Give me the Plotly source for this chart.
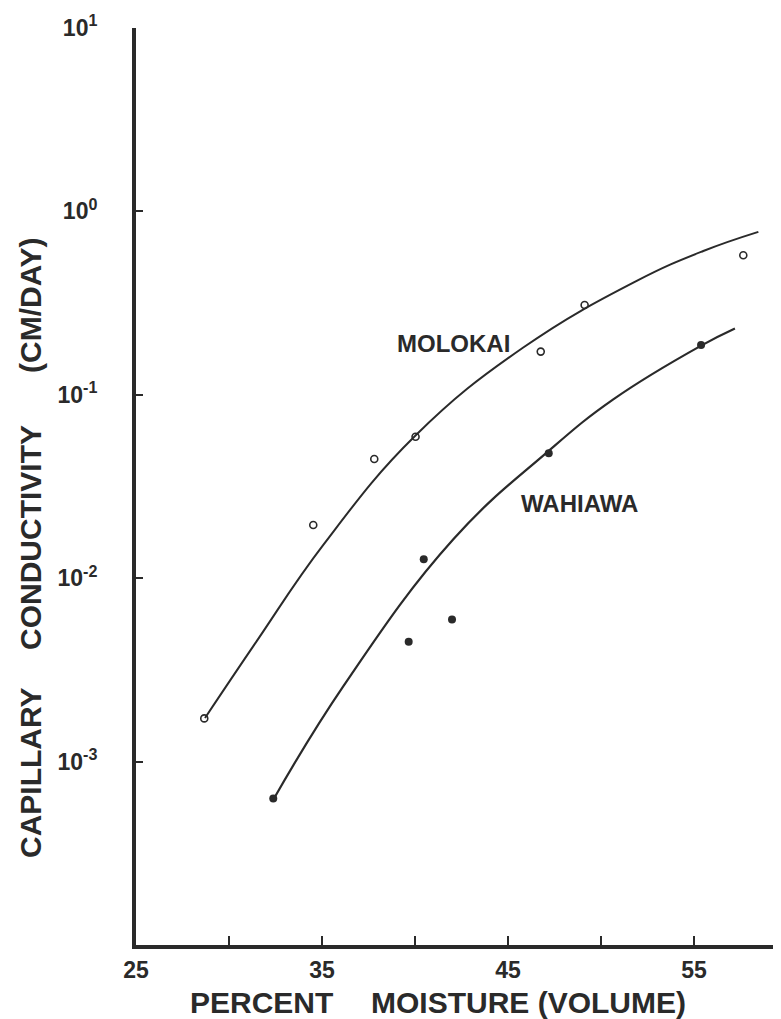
import plotly.graph_objects as go

# ---- data ----
molokai_x = [28.67, 34.53, 37.81, 40.03, 46.76, 49.12, 57.65]
molokai_y = [0.00172, 0.0195, 0.0447, 0.0591, 0.172, 0.309, 0.577]

wahiawa_x = [32.38, 39.66, 40.47, 41.99, 47.19, 55.38]
wahiawa_y = [0.00063, 0.0045, 0.0127, 0.00596, 0.048, 0.187]

# hand-drawn fitted curves
molokai_curve_x = [28.71, 31.49, 35.07, 40.00, 45.82, 51.92, 55.50, 58.46]
molokai_curve_y = [0.00173, 0.00454, 0.0152, 0.0596, 0.181, 0.418, 0.608, 0.773]

wahiawa_curve_x = [32.38, 36.15, 42.06, 47.08, 50.66, 55.41, 57.20]
wahiawa_curve_y = [0.00062, 0.00258, 0.0163, 0.0484, 0.0944, 0.186, 0.230]

x_tick_vals = [25, 35, 45, 55]
x_tick_text = ["25", "35", "45", "55"]
y_tick_vals = [10, 1, 0.1, 0.01, 0.001]
y_tick_text = ["10<sup>1</sup>", "10<sup>0</sup>", "10<sup>-1</sup>", "10<sup>-2</sup>", "10<sup>-3</sup>"]

INK = "#2a2a2a"
FONT = "Liberation Sans"

OFF = 8  # page body margin
W, H = 773, 1011
ML, MR, MT, MB = 128, 0, 20, 74
PW, PH = W - ML - MR, H - MT - MB


def px(xp):
    return (xp - OFF - ML) / PW


def py(yp):
    return (H - MB - (yp - OFF)) / PH


fig = go.Figure()

fig.add_trace(go.Scatter(
    x=molokai_curve_x, y=molokai_curve_y,
    mode="lines", line=dict(color=INK, width=2, shape="spline", smoothing=1.2),
    showlegend=False, hoverinfo="skip"))
fig.add_trace(go.Scatter(
    x=wahiawa_curve_x, y=wahiawa_curve_y,
    mode="lines", line=dict(color=INK, width=2.2, shape="spline", smoothing=1.2),
    showlegend=False, hoverinfo="skip"))

fig.add_trace(go.Scatter(
    x=molokai_x, y=molokai_y, mode="markers", name="Molokai",
    marker=dict(symbol="circle-open", size=7, color=INK, line=dict(width=1.6, color=INK)),
    showlegend=False))
fig.add_trace(go.Scatter(
    x=wahiawa_x, y=wahiawa_y, mode="markers", name="Wahiawa",
    marker=dict(symbol="circle", size=8, color=INK),
    showlegend=False))

fig.update_xaxes(
    range=[25, 25 + PW / 18.6],
    showline=True, linewidth=4, linecolor=INK,
    showgrid=False, zeroline=False,
    tickmode="array", tickvals=x_tick_vals, ticktext=x_tick_text,
    ticks="inside", ticklen=9, tickwidth=2, tickcolor=INK,
    minor=dict(dtick=5, tick0=25, ticks="inside", ticklen=9, tickwidth=2, tickcolor=INK, showgrid=False),
    tickfont=dict(family=FONT, size=23, color=INK, weight="bold"),
    ticklabelstandoff=1,
)
fig.update_yaxes(
    type="log", range=[-4, 1],
    showline=True, linewidth=4, linecolor=INK,
    showgrid=False, zeroline=False,
    tickmode="array", tickvals=y_tick_vals, ticktext=y_tick_text,
    ticks="inside", ticklen=7, tickwidth=2, tickcolor=INK,
    tickfont=dict(family=FONT, size=23, color=INK, weight="bold"),
    ticklabelstandoff=30,
)

annots = [
    dict(text="MOLOKAI", x=px(453), y=py(343), size=24, angle=0),
    dict(text="WAHIAWA", x=px(579), y=py(503), size=24, angle=0),
    dict(text="CAPILLARY", x=px(30), y=py(773), size=30, angle=-90),
    dict(text="CONDUCTIVITY", x=px(30), y=py(538), size=30, angle=-90),
    dict(text="(CM/DAY)", x=px(30), y=py(305), size=30, angle=-90),
    dict(text="PERCENT", x=px(261), y=py(1002), size=30, angle=0),
    dict(text="MOISTURE (VOLUME)", x=px(528), y=py(1002), size=30, angle=0),
]
for a in annots:
    fig.add_annotation(
        text=a["text"], x=a["x"], y=a["y"], xref="paper", yref="paper",
        xanchor="center", yanchor="middle", showarrow=False, textangle=a["angle"],
        font=dict(family=FONT, size=a["size"], color=INK, weight="bold"))

fig.update_layout(
    width=W, height=H,
    margin=dict(l=ML, r=MR, t=MT, b=MB),
    paper_bgcolor="white", plot_bgcolor="white",
    showlegend=False,
)

fig.write_html("out.html")
